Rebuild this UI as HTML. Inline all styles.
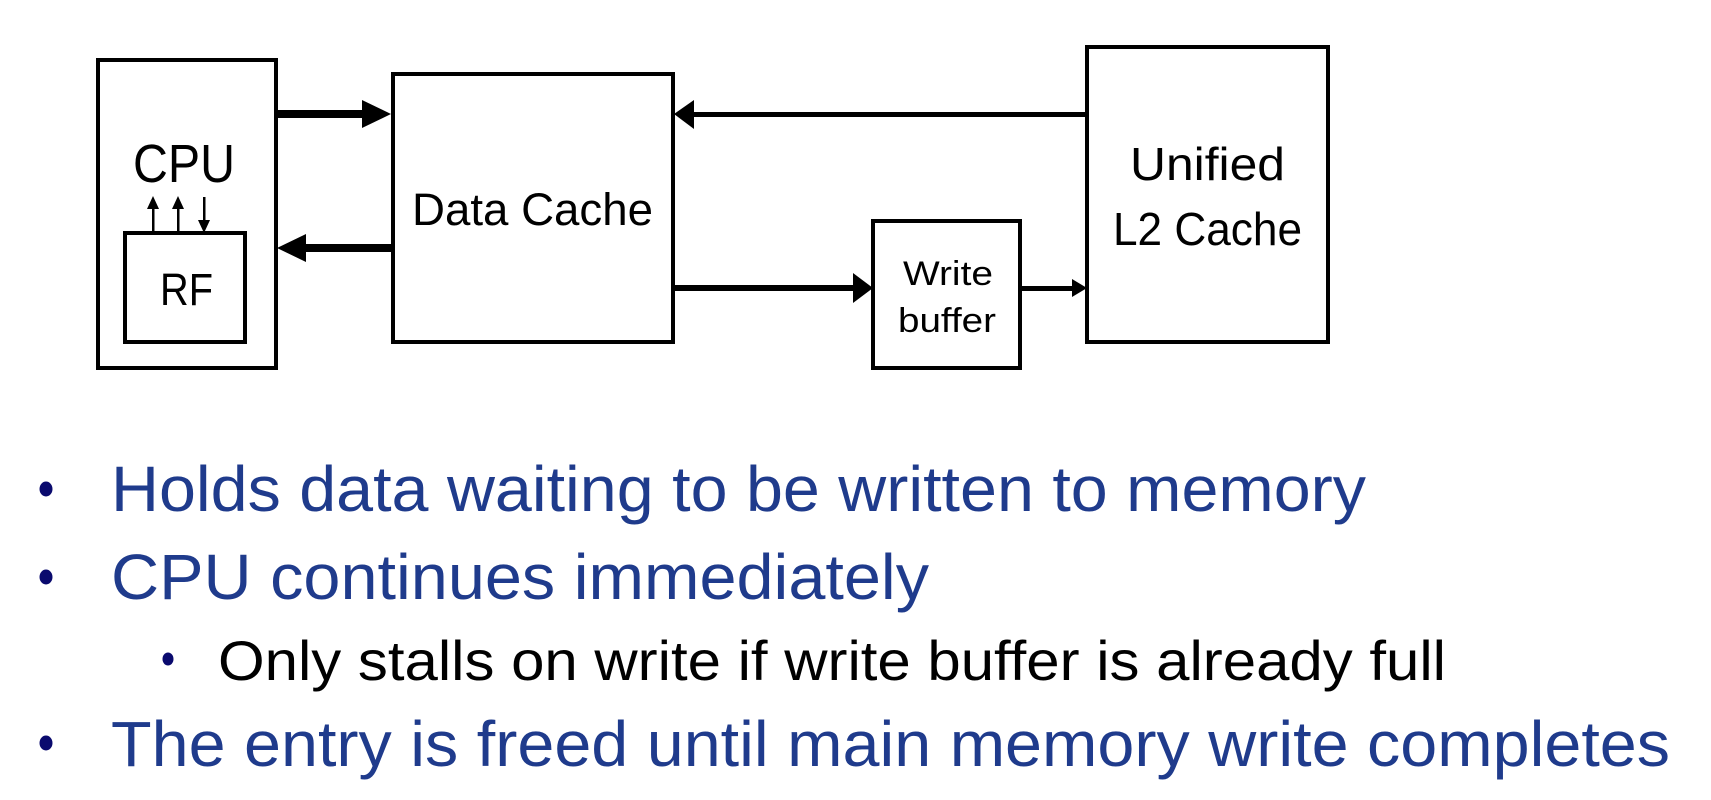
<!DOCTYPE html>
<html><head><meta charset="utf-8"><style>html,body{margin:0;padding:0;background:#fff}svg{display:block}</style></head>
<body>
<svg width="1711" height="800" viewBox="0 0 1711 800" xmlns="http://www.w3.org/2000/svg">
<g fill="none" stroke="#000" stroke-width="4">
<rect x="98" y="60" width="178" height="308"/>
<rect x="125" y="233" width="120" height="109"/>
<rect x="393" y="74" width="280" height="268"/>
<rect x="1087" y="47" width="241" height="295"/>
<rect x="873" y="221" width="147" height="147"/>
</g>
<g fill="#000">
<rect x="276" y="110" width="88" height="8"/>
<polygon points="362,100 391,114 362,128"/>
<rect x="304" y="244" width="89" height="8"/>
<polygon points="306,234 277,248 306,262"/>
<rect x="690" y="112" width="397" height="5"/>
<polygon points="694,100 674,114 694,129"/>
<rect x="673" y="285" width="184" height="6"/>
<polygon points="853,273 873,288 853,303"/>
<rect x="1020" y="286" width="55" height="5"/>
<polygon points="1072,279 1087,288 1072,297"/>
<rect x="152" y="205" width="2.5" height="28"/>
<polygon points="147,209 153,196 159,209"/>
<rect x="177" y="205" width="2.5" height="28"/>
<polygon points="172,209 178,196 184,209"/>
<rect x="203" y="197" width="2.5" height="27"/>
<polygon points="198,220 204,233 210,220"/>
</g>
<g font-family="Liberation Sans, sans-serif" fill="#000">
<text x="133" y="182" font-size="54" textLength="102" lengthAdjust="spacingAndGlyphs">CPU</text>
<text x="160" y="305" font-size="45" textLength="53" lengthAdjust="spacingAndGlyphs">RF</text>
<text x="412" y="225" font-size="45" textLength="241" lengthAdjust="spacingAndGlyphs">Data Cache</text>
<text x="1130" y="180" font-size="46" textLength="155" lengthAdjust="spacingAndGlyphs">Unified</text>
<text x="1113" y="245" font-size="46" textLength="189" lengthAdjust="spacingAndGlyphs">L2 Cache</text>
<text x="903" y="285" font-size="34" textLength="90" lengthAdjust="spacingAndGlyphs">Write</text>
<text x="898" y="332" font-size="34" textLength="98" lengthAdjust="spacingAndGlyphs">buffer</text>
</g>
<g fill="#0a0a6e">
<ellipse cx="46" cy="489" rx="6.5" ry="7.5"/>
<ellipse cx="46" cy="577" rx="6.5" ry="7.5"/>
<ellipse cx="168" cy="659" rx="5.5" ry="6.5"/>
<ellipse cx="46" cy="743" rx="6.5" ry="7.5"/>
</g>
<g font-family="Liberation Sans, Arial, sans-serif" fill="#1f3b8c" font-size="64">
<text x="111" y="511" textLength="1255" lengthAdjust="spacingAndGlyphs">Holds data waiting to be written to memory</text>
<text x="111" y="599" textLength="818" lengthAdjust="spacingAndGlyphs">CPU continues immediately</text>
<text x="111" y="766" textLength="1559" lengthAdjust="spacingAndGlyphs">The entry is freed until main memory write completes</text>
</g>
<text x="218" y="680" font-family="Liberation Sans, Arial, sans-serif" font-size="56" fill="#000" textLength="1228" lengthAdjust="spacingAndGlyphs">Only stalls on write if write buffer is already full</text>
</svg>
</body></html>
